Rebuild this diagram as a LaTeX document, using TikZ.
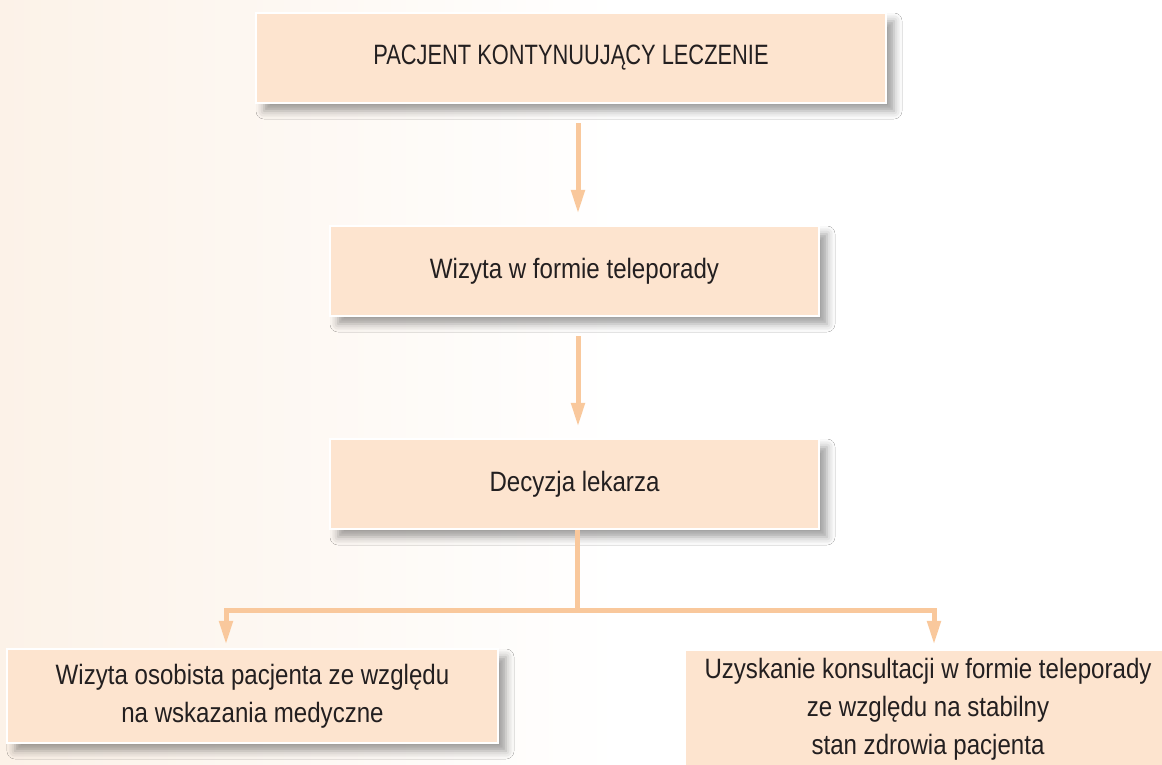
\documentclass[tikz,border=0pt]{standalone}
\usepackage{fontspec}
\setmainfont{Liberation Sans}[FakeStretch=0.86]
\newfontfamily\capsfont{Liberation Sans}[FakeStretch=0.78]
\usetikzlibrary{arrows.meta,shadows.blur,calc}
\definecolor{boxfill}{HTML}{FDE4CF}
\definecolor{arrcol}{HTML}{F9C89C}
\definecolor{txt}{HTML}{231F20}
\definecolor{bgpeach}{HTML}{FCF2E8}
\begin{document}
\begin{tikzpicture}[x=1pt,y=-1pt,
  box/.style={draw=white, line width=2.5pt, fill=boxfill, text=txt,
    font=\fontsize{28}{38}\selectfont, align=center, inner sep=0pt,
    blur shadow={shadow xshift=8pt, shadow yshift=-8pt, shadow blur radius=8pt, shadow opacity=38}},
  conn/.style={draw=arrcol, line width=5pt},
  arr/.style={conn, -{Triangle[width=13pt,length=24pt]}}]
\useasboundingbox (0,0) rectangle (1162,764);
\fill[white] (0,0) rectangle (1162,764);
\shade[left color=bgpeach, right color=white] (0,0) rectangle (620,764);

\node[box, minimum width=630pt, minimum height=90pt] (b1) at (571,58) {\capsfont PACJENT KONTYNUUJĄCY LECZENIE};
\node[box, minimum width=489pt, minimum height=90pt] (b2) at (574.5,271) {Wizyta w formie teleporady};
\node[box, minimum width=489pt, minimum height=90pt] (b3) at (574.5,484) {Decyzja lekarza};
\node[box, minimum width=491pt, minimum height=94pt] (b4) at (252.5,696) {Wizyta osobista pacjenta ze względu\\na wskazania medyczne};
\node[box, minimum width=486pt, minimum height=118pt] (b5) at (928,709) {Uzyskanie konsultacji w formie teleporady\\ze względu na stabilny\\stan zdrowia pacjenta};

\coordinate (ax) at (578,0);
\coordinate (j) at (577,610);
\draw[arr, shorten <=19pt, shorten >=11pt] (b1.south -| ax) -- (b2.north -| ax);
\draw[arr, shorten <=19pt, shorten >=11pt] (b2.south -| ax) -- (b3.north -| ax);
\draw[conn] (b3.south -| j) -- (j);
\draw[arr, shorten >=3pt] (j) -| ([xshift=-26.5pt]b4.north);
\draw[arr, shorten >=4pt] (j) -| ([xshift=6pt]b5.north);
\end{tikzpicture}
\end{document}
